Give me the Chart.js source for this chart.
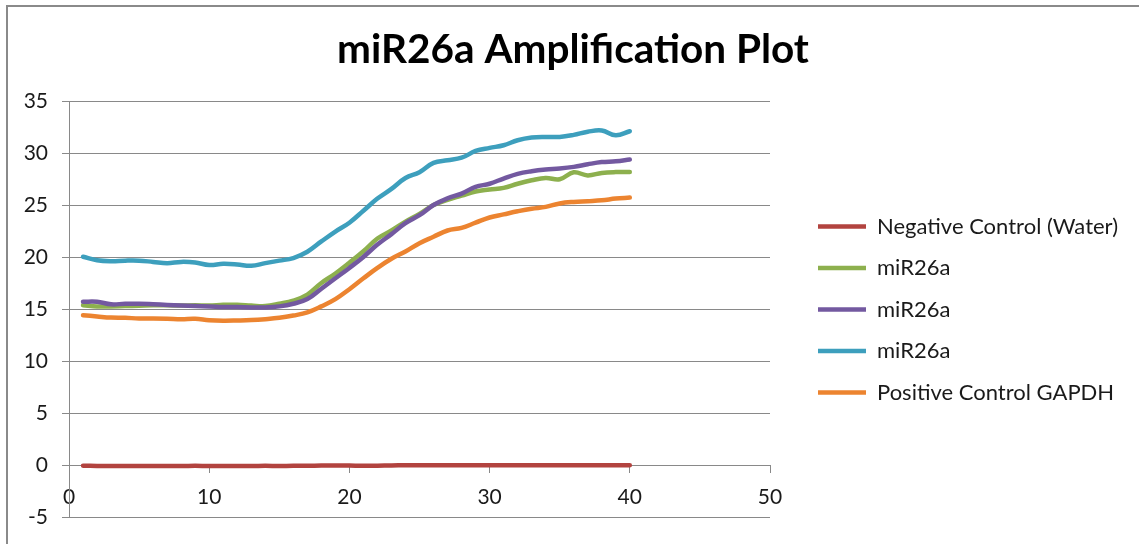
<!DOCTYPE html>
<html>
<head>
<meta charset="utf-8">
<script src="https://cdn.jsdelivr.net/npm/chart.js@4.4.1/dist/chart.umd.min.js"></script>
<style>
html,body{margin:0;padding:0;background:#fff;overflow:hidden;}
#frame{position:absolute;left:6px;top:5px;width:1200px;height:600px;border:2px solid #8a8a8a;box-sizing:border-box;}
#wrap{position:absolute;left:0;top:0;width:1139px;height:544px;}
</style>
</head>
<body>
<div id="frame"></div>
<div id="wrap"><canvas id="c" width="1139" height="544"></canvas></div>
<script>
const cycles = [1,2,3,4,5,6,7,8,9,10,11,12,13,14,15,16,17,18,19,20,21,22,23,24,25,26,27,28,29,30,31,32,33,34,35,36,37,38,39,40];

const negativeControl = [-0.02,-0.05,-0.06,-0.06,-0.05,-0.05,-0.06,-0.05,-0.04,-0.05,-0.06,-0.05,-0.05,-0.04,-0.05,-0.04,-0.03,-0.01,0.0,-0.01,-0.03,-0.02,0.0,0.01,0.02,0.02,0.01,0.02,0.02,0.01,0.02,0.02,0.01,0.02,0.02,0.01,0.02,0.02,0.02,0.01];

const mir26aGreen = [15.42,15.30,15.30,15.33,15.36,15.40,15.40,15.38,15.40,15.38,15.45,15.45,15.38,15.33,15.55,15.85,16.44,17.55,18.46,19.50,20.60,21.83,22.60,23.45,24.20,25.05,25.55,25.95,26.35,26.54,26.70,27.10,27.43,27.66,27.53,28.20,27.90,28.14,28.22,28.22];

const mir26aPurple = [15.74,15.74,15.50,15.55,15.55,15.50,15.44,15.38,15.33,15.30,15.24,15.23,15.20,15.20,15.30,15.55,16.00,17.00,18.00,19.00,20.06,21.25,22.25,23.30,24.07,25.05,25.70,26.15,26.80,27.10,27.60,28.05,28.30,28.46,28.56,28.72,28.97,29.18,29.26,29.43];

const mir26aCyan = [20.07,19.74,19.65,19.70,19.70,19.58,19.46,19.58,19.52,19.28,19.39,19.33,19.20,19.46,19.70,19.95,20.56,21.55,22.50,23.35,24.50,25.67,26.60,27.65,28.20,29.10,29.35,29.60,30.25,30.55,30.80,31.28,31.54,31.60,31.60,31.80,32.10,32.22,31.76,32.15];

const positiveControl = [14.45,14.33,14.22,14.20,14.14,14.14,14.12,14.07,14.10,13.97,13.92,13.94,13.98,14.07,14.20,14.42,14.72,15.30,16.00,16.95,18.00,19.00,19.88,20.58,21.38,22.00,22.60,22.85,23.35,23.85,24.15,24.45,24.70,24.87,25.20,25.35,25.42,25.50,25.67,25.77];

const seriesNames = ['Negative Control (Water)','miR26a','miR26a','miR26a','Positive Control GAPDH'];
const seriesColors = ['#B2433F','#8DB04E','#7359A0','#3D9FBD','#EC8430'];
const seriesValues = [negativeControl, mir26aGreen, mir26aPurple, mir26aCyan, positiveControl];

const titleText = 'miR26a Amplification Plot';
const xTicks = {min:0, max:50, step:10};
const yTicks = {min:-5, max:35, step:5};

const FONT = 'Lato';
const LEGEND_SIZE = 22;
const LEGEND_PAD = 19.5;
const LEGEND_BOX = 48;
const Y2W = 28.5;
const PLOT_RIGHT = 770;
const PLOT_LEFT = 69;
const PAD_L = 18;

const mctx = document.createElement('canvas').getContext('2d');
mctx.font = LEGEND_SIZE + 'px ' + FONT;
const textW = Math.max(...seriesNames.map(n => mctx.measureText(n).width));
const legendW = LEGEND_PAD + LEGEND_BOX + LEGEND_SIZE/2 + textW + 10;
const padR = Math.max(0, 1139 - PLOT_RIGHT - Y2W - legendW);

const gridColor = '#898989';
const textColor = '#1a1a1a';

const datasets = seriesValues.map((vals, i) => ({
  label: seriesNames[i],
  data: vals,
  borderColor: seriesColors[i],
  backgroundColor: seriesColors[i],
  borderWidth: 4.5,
  pointRadius: 0,
  pointHoverRadius: 0,
  tension: 0.4,
  fill: false,
  borderCapStyle: 'round',
  borderJoinStyle: 'round',
  order: seriesValues.length - i
}));

new Chart(document.getElementById('c'), {
  type: 'line',
  data: { labels: cycles, datasets: datasets },
  options: {
    responsive: false,
    animation: false,
    events: [],
    layout: { padding: { left: PAD_L, right: padR, top: 0, bottom: 25 } },
    scales: {
      x: {
        type: 'linear',
        position: { y: 0 },
        min: xTicks.min, max: xTicks.max,
        ticks: { stepSize: xTicks.step, font: { family: FONT, size: 21 }, color: textColor, padding: 12, maxRotation: 0 },
        grid: { drawOnChartArea: false, drawTicks: true, tickLength: 7, color: gridColor, lineWidth: 1 },
        border: { display: true, color: gridColor, width: 1 }
      },
      y: {
        position: 'left',
        min: yTicks.min, max: yTicks.max,
        ticks: { stepSize: yTicks.step, font: { family: FONT, size: 21 }, color: textColor, padding: 14 },
        grid: { color: gridColor, lineWidth: 1, tickLength: 7, drawTicks: true },
        border: { display: true, color: gridColor, width: 1 },
        afterFit: s => { s.width = PLOT_LEFT - PAD_L; }
      },
      y2: {
        position: 'right',
        display: true,
        grid: { display: false, drawTicks: false },
        ticks: { display: false },
        border: { display: false },
        afterFit: s => { s.width = Y2W; }
      }
    },
    plugins: {
      title: {
        display: true,
        text: titleText,
        font: { family: FONT, size: 40.5, weight: 'bold' },
        color: '#000',
        padding: { top: 26, bottom: 27 }
      },
      legend: {
        position: 'right',
        fullSize: false,
        maxWidth: 600,
        labels: {
          usePointStyle: true,
          pointStyle: 'line',
          pointStyleWidth: LEGEND_BOX,
          font: { family: FONT, size: LEGEND_SIZE },
          color: textColor,
          padding: LEGEND_PAD,
          sort: (a, b) => a.datasetIndex - b.datasetIndex
        }
      },
      tooltip: { enabled: false }
    }
  }
});
</script>
</body>
</html>
